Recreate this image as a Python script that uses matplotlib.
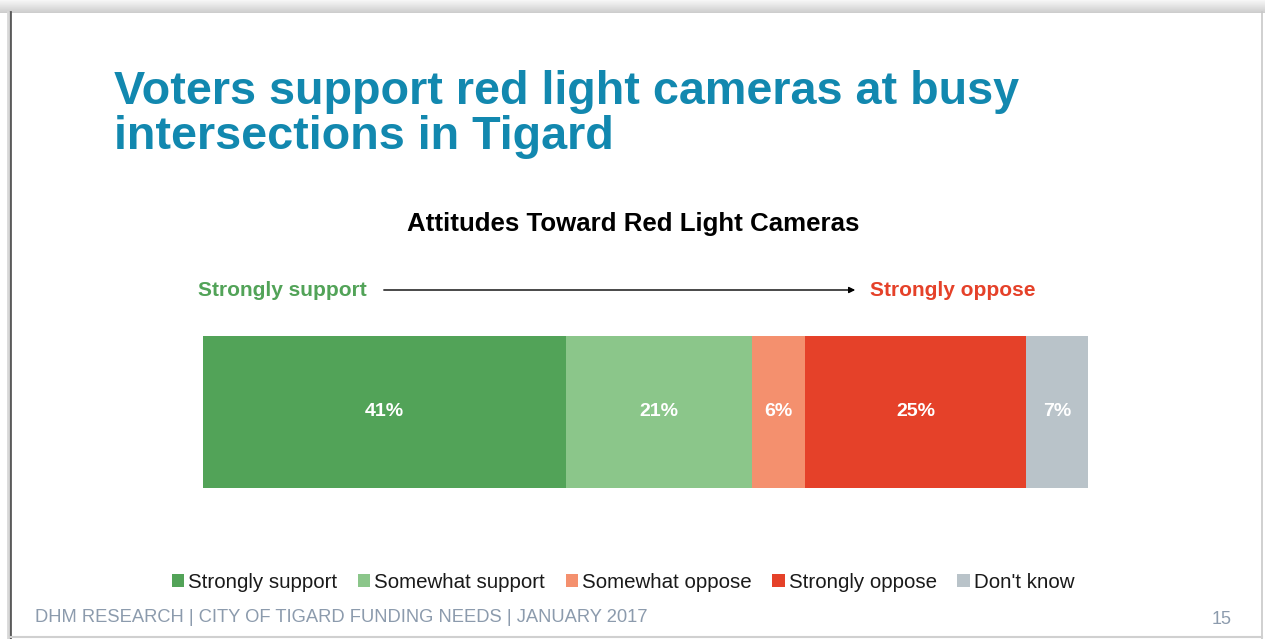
import matplotlib
matplotlib.use("Agg")
import matplotlib.pyplot as plt
import numpy as np
from matplotlib.patches import Patch, FancyArrowPatch
from matplotlib.lines import Line2D

categories = ["Strongly support", "Somewhat support", "Somewhat oppose", "Strongly oppose", "Don't know"]
values = [41, 21, 6, 25, 7]
labels = ["41%", "21%", "6%", "25%", "7%"]
colors = ["#52A358", "#8BC68A", "#F4906E", "#E54129", "#B9C3C9"]

title_lines = ["Voters support red light cameras at busy", "intersections in Tigard"]
subtitle = "Attitudes Toward Red Light Cameras"
footer = "DHM RESEARCH | CITY OF TIGARD FUNDING NEEDS | JANUARY 2017"
page = "15"

plt.rcParams['font.family'] = ['Liberation Sans', 'DejaVu Sans']

W, H = 1265, 639
fig = plt.figure(figsize=(W / 100, H / 100), dpi=100)
fig.patch.set_facecolor("white")

def fx(x):
    return x / W

def fy(y):
    return 1 - y / H

# slide frame: top shadow gradient
sh = fig.add_axes([0, fy(13), 1, 13 / H])
grad = np.linspace(0.97, 0.80, 50).reshape(-1, 1)
sh.imshow(grad, aspect="auto", cmap="gray", vmin=0, vmax=1, extent=[0, 1, 0, 1])
sh.axis("off")
fig.add_artist(Line2D([fx(10), fx(10)], [fy(12), fy(639)], color="#5A5A5A", lw=2.0))
fig.add_artist(Line2D([fx(8), fx(8)], [fy(12), fy(639)], color="#D8D8D8", lw=2.0))
fig.add_artist(Line2D([fx(1262), fx(1262)], [fy(12), fy(639)], color="#C8C8C8", lw=1.2))
fig.add_artist(Line2D([fx(10), fx(1262)], [fy(637), fy(637)], color="#D0D0D0", lw=1.5))

# title (two lines placed by baseline)
for line, base in zip(title_lines, [104, 149]):
    fig.text(fx(114), fy(base), line, fontsize=33.7, fontweight="bold", color="#1288AF",
             ha="left", va="baseline")

# subtitle
fig.text(fx(633), fy(224), subtitle, fontsize=18.6, fontweight="bold", color="black",
         ha="center", va="center")

# scale arrow
fig.text(fx(198), fy(290), "Strongly support", fontsize=15, fontweight="bold",
         color="#52A358", ha="left", va="center")
fig.text(fx(870), fy(290), "Strongly oppose", fontsize=15, fontweight="bold",
         color="#E54129", ha="left", va="center")
fig.add_artist(FancyArrowPatch((fx(381), fy(290)), (fx(858), fy(290)),
               transform=fig.transFigure, arrowstyle="-|>", mutation_scale=9,
               color="black", lw=1.0))

# bar
ax = fig.add_axes([fx(203), fy(488), 885 / W, 152 / H])
left = 0
for v, c, lab in zip(values, colors, labels):
    ax.barh(0, v, left=left, color=c, height=1.0, edgecolor="none")
    ax.text(left + v / 2, 0, lab, ha="center", va="center", color="white",
            fontsize=14, fontweight="bold")
    left += v
ax.set_xlim(0, sum(values))
ax.set_ylim(-0.5, 0.5)
ax.axis("off")

# legend
handles = [Patch(facecolor=c, edgecolor="none") for c in colors]
leg = fig.legend(handles, categories, loc="center", bbox_to_anchor=(fx(623), fy(582)),
                 ncol=5, frameon=False, fontsize=14.8, handlelength=0.6, handleheight=0.6,
                 handletextpad=0.2, columnspacing=1.0)
for t in leg.get_texts():
    t.set_color("#1A1A1A")

# footer
fig.text(fx(35), fy(617), footer, fontsize=13.2, color="#8C9BAD", ha="left", va="center")
fig.text(fx(1232), fy(619), page, fontsize=13, color="#8C9BAD", ha="right", va="center")

fig.savefig("out.png", dpi=100, facecolor="white")
